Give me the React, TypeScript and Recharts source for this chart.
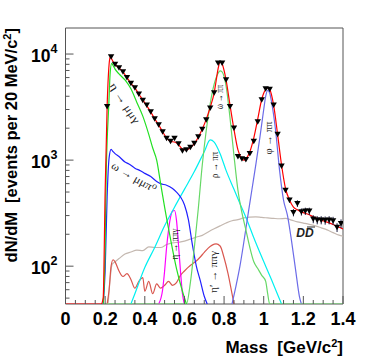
import React from "react";
import {
  ComposedChart,
  Line,
  Scatter,
  XAxis,
  YAxis,
  ReferenceArea,
  ErrorBar,
} from "recharts";

// y range of the frame (events per 20 MeV)
const FLOOR = 44;
const TOP = 17600;

// measured spectrum, 20 MeV bins
const dataMass = [
  0.21, 0.23, 0.25, 0.27, 0.29, 0.31, 0.33, 0.35, 0.37, 0.39, 0.41, 0.43, 0.45, 0.47, 0.49,
  0.51, 0.53, 0.55, 0.57, 0.59, 0.61, 0.63, 0.65, 0.67, 0.69, 0.71, 0.73, 0.75, 0.77, 0.79,
  0.81, 0.83, 0.85, 0.87, 0.89, 0.91, 0.93, 0.95, 0.97, 0.99, 1.01, 1.03, 1.05, 1.07, 1.09,
  1.11, 1.13, 1.15, 1.17, 1.19, 1.21, 1.23, 1.25, 1.27, 1.29, 1.31, 1.33, 1.35, 1.37, 1.39,
];
const dataCounts = [
  3200, 9400, 8000, 7400, 6800, 6000, 5300, 4800, 4200, 3650, 3300, 2850, 2450, 2150, 1850,
  1600, 1500, 1600, 1420, 1220, 1250, 1320, 1440, 1660, 1950, 2400, 3100, 4300, 8200, 8200,
  5700, 3200, 2000, 1080, 1030, 1010, 1150, 1500, 2300, 3700, 4700, 4650, 3300, 1750, 880,
  520, 420, 320, 390, 325, 330, 330, 278, 272, 272, 270, 272, 268, 232, 252,
];
const dataErrors = [
  0, 0, 0, 0, 0, 0, 0, 0, 0, 0, 0, 0, 0, 0, 0,
  0, 0, 0, 0, 0, 0, 0, 0, 0, 0, 0, 0, 0, 0, 0,
  0, 0, 0, 0, 0, 0, 0, 0, 0, 0, 0, 0, 0, 0, 0,
  22, 22, 25, 28, 25, 26, 26, 24, 24, 24, 24, 24, 24, 22, 24,
];

// total fit
const totalMass = [
  0, 0.18, 0.19, 0.2, 0.21, 0.22, 0.225, 0.23, 0.24, 0.25, 0.27, 0.29, 0.31, 0.33, 0.35, 0.37,
  0.39, 0.41, 0.43, 0.45, 0.47, 0.49, 0.51, 0.53, 0.55, 0.57, 0.59, 0.61, 0.63, 0.65, 0.67,
  0.69, 0.71, 0.73, 0.75, 0.76, 0.77, 0.78, 0.79, 0.8, 0.81, 0.83, 0.85, 0.87, 0.89, 0.9, 0.91,
  0.93, 0.95, 0.97, 0.99, 1.01, 1.02, 1.03, 1.05, 1.07, 1.09, 1.11, 1.13, 1.15, 1.17, 1.19,
  1.21, 1.23, 1.25, 1.27, 1.29, 1.31, 1.33, 1.35, 1.37, 1.39, 1.4,
];
const totalFit = [
  44, 44, 50, 500, 3200, 8000, 9400, 9200, 8500, 8000, 7400, 6800, 6000, 5300, 4800, 4200,
  3700, 3250, 2850, 2450, 2150, 1850, 1620, 1500, 1480, 1400, 1270, 1250, 1310, 1430, 1640,
  1960, 2420, 3150, 4300, 5600, 7300, 8400, 8100, 7000, 5700, 3300, 1950, 1250, 1030, 1000, 1030,
  1200, 1620, 2450, 3750, 4650, 4800, 4650, 3300, 1750, 900, 540, 420, 360, 340, 325,
  315, 305, 292, 282, 272, 264, 256, 247, 237, 229, 225,
];

// eta -> mu mu gamma
const etaMumugMass = [
  0.19, 0.2, 0.205, 0.21, 0.218, 0.225, 0.233, 0.24, 0.25, 0.27, 0.3, 0.33, 0.36, 0.39, 0.42,
  0.44, 0.46, 0.48, 0.5, 0.53, 0.56, 0.59, 0.61,
];
const etaMumug = [
  44, 150, 700, 1500, 3200, 6500, 8150, 7800, 7200, 6500, 5700, 4700, 3500, 2600, 1750,
  1300, 1000, 600, 360, 180, 95, 58, 44,
];

// omega -> mu mu pi0
const omegaMumupiMass = [
  0.19, 0.2, 0.21, 0.22, 0.23, 0.24, 0.25, 0.27, 0.3, 0.32, 0.35, 0.38, 0.4, 0.43, 0.46, 0.48,
  0.51, 0.54, 0.56, 0.58, 0.6, 0.62, 0.64, 0.66, 0.68, 0.7, 0.715,
];
const omegaMumupi = [
  44, 90, 450, 1050, 1260, 1200, 1150, 1080, 960, 920, 840, 790, 750, 700, 630, 600,
  580, 540, 500, 450, 380, 275, 160, 100, 73, 52, 44,
];

// omega -> mu mu (narrow peak), runs along the floor outside the peak
const omegaMass = [
  0.2, 0.61, 0.63, 0.65, 0.67, 0.69, 0.71, 0.73, 0.75, 0.77, 0.78, 0.79, 0.81, 0.83, 0.85,
  0.87, 0.89, 0.91, 0.93, 0.95, 0.97, 0.99, 1.01, 1.02, 1.03, 1.4,
];
const omegaMumu = [
  44, 44, 70, 150, 350, 900, 1900, 3400, 5200, 6600, 6950, 6800, 5000, 2500, 1100,
  520, 320, 220, 150, 110, 95, 82, 72, 55, 44, 44,
];

// rho -> mu mu
const rhoMass = [
  0.33, 0.35, 0.4, 0.45, 0.5, 0.55, 0.6, 0.65, 0.7, 0.73, 0.75, 0.78, 0.81, 0.85, 0.88, 0.92,
  0.95, 0.98, 1.01, 1.04, 1.07, 1.09,
];
const rhoMumu = [
  44, 55, 97, 150, 240, 360, 530, 780, 1200, 1550, 1480, 1150, 800, 530, 390, 260,
  185, 135, 100, 74, 54, 44,
];

// phi -> mu mu
const phiMass = [
  0.84, 0.86, 0.88, 0.9, 0.92, 0.94, 0.96, 0.98, 1.0, 1.01, 1.02, 1.03, 1.04, 1.06, 1.08, 1.1,
  1.12, 1.14, 1.16, 1.18, 1.19,
];
const phiMumu = [
  44, 65, 100, 170, 300, 520, 900, 1600, 3000, 4000, 4550, 4300, 3500, 1900, 800, 420,
  300, 175, 95, 52, 44,
];

// eta -> mu mu
const etaMumuMass = [0.47, 0.49, 0.5, 0.51, 0.52, 0.53, 0.54, 0.55, 0.56, 0.57, 0.58, 0.59, 0.6];
const etaMumu = [44, 60, 90, 150, 220, 290, 330, 335, 270, 160, 90, 55, 44];

// eta' -> mu mu gamma
const etapMass = [
  0.21, 0.22, 0.23, 0.24, 0.25, 0.27, 0.29, 0.31, 0.33, 0.35, 0.37, 0.39, 0.4, 0.42, 0.44, 0.46,
  0.48, 0.5, 0.52, 0.54, 0.56, 0.58, 0.6, 0.62, 0.64, 0.66, 0.68, 0.7, 0.72, 0.74, 0.76, 0.78,
  0.8, 0.82, 0.84, 0.85,
];
const etapMumug = [
  44, 60, 100, 115, 110, 90, 80, 85, 75, 62, 72, 78, 58, 72, 55, 68,
  62, 66, 72, 66, 70, 82, 90, 98, 105, 112, 122, 135, 148, 158, 162, 155,
  120, 85, 55, 44,
];

// open charm D Dbar
const ddMass = [
  0.215, 0.225, 0.235, 0.25, 0.27, 0.3, 0.33, 0.36, 0.39, 0.42, 0.45, 0.48, 0.51, 0.54, 0.57,
  0.6, 0.63, 0.66, 0.69, 0.72, 0.75, 0.78, 0.81, 0.84, 0.87, 0.9, 0.93, 0.96, 0.99, 1.02, 1.05,
  1.08, 1.11, 1.14, 1.17, 1.2, 1.23, 1.26, 1.29, 1.32, 1.35, 1.38, 1.4,
];
const ddBar = [
  44, 75, 104, 110, 118, 130, 136, 142, 140, 152, 150, 150, 160, 166, 168,
  172, 180, 188, 195, 210, 225, 240, 255, 268, 275, 285, 290, 292, 288, 285, 282,
  280, 282, 272, 262, 255, 248, 240, 230, 220, 207, 196, 192,
];

const X_TICKS = [
  0, 0.05, 0.1, 0.15, 0.2, 0.25, 0.3, 0.35, 0.4, 0.45, 0.5, 0.55, 0.6, 0.65, 0.7, 0.75, 0.8,
  0.85, 0.9, 0.95, 1, 1.05, 1.1, 1.15, 1.2, 1.25, 1.3, 1.35, 1.4,
];
const X_LABELS = ["0", "0.2", "0.4", "0.6", "0.8", "1", "1.2", "1.4"];
const Y_TICKS = [
  50, 60, 70, 80, 90, 100, 200, 300, 400, 500, 600, 700, 800, 900, 1000, 2000, 3000, 4000,
  5000, 6000, 7000, 8000, 9000, 10000,
];
const Y_MAJOR = [100, 1000, 10000];
const Y_EXP = ["2", "3", "4"];

const pts = (m: number[], v: number[]) => m.map((x, i) => ({ m: x, v: v[i] }));
const points = dataMass.map((x, i) => ({ m: x, v: dataCounts[i], e: dataErrors[i] }));

const AXIS = "#555";
const SANS = "'Liberation Sans', Arial, Helvetica, sans-serif";
const SERIF = "'Liberation Serif', 'DejaVu Serif', serif";

const XTick = (props: any) => {
  const { x, y, payload } = props;
  const v = payload.value;
  const idx = X_TICKS.indexOf(v);
  const major = idx % 4 === 0;
  return (
    <g>
      <line x1={x} x2={x} y1={y} y2={y - (major ? 8 : 4)} stroke={AXIS} />
      {major && (
        <text x={x} y={y + 21} textAnchor="middle" fontFamily={SANS} fontWeight="bold" fontSize={18} fill="#000">
          {X_LABELS[idx / 4]}
        </text>
      )}
    </g>
  );
};

const YTick = (props: any) => {
  const { x, y, payload } = props;
  const k = Y_MAJOR.indexOf(payload.value);
  const major = k >= 0;
  return (
    <g>
      <line x1={x} x2={x + (major ? 8 : 4)} y1={y} y2={y} stroke={AXIS} />
      {major && (
        <text x={x - 8} y={y + 7.7} textAnchor="end" fontFamily={SANS} fontWeight="bold" fontSize={17.5} fill="#000">
          <tspan>10</tspan>
          <tspan dy={-8.4} fontSize={12.5}>{Y_EXP[k]}</tspan>
        </text>
      )}
    </g>
  );
};

const Triangle = (props: any) => {
  const { cx, cy } = props;
  return <polygon points={`${cx - 3.2},${cy - 2.6} ${cx + 3.2},${cy - 2.6} ${cx},${cy + 2.9}`} fill="#000" />;
};

const Label = ({ x, y, angle, len, children }: any) => (
  <text
    transform={`translate(${x},${y}) rotate(${angle})`}
    textAnchor="middle"
    dy="0.35em"
    fontFamily={SERIF}
    fontSize={11}
    fill="#222"
    textLength={len}
    lengthAdjust="spacingAndGlyphs"
    style={{ whiteSpace: "pre" }}
  >
    {children}
  </text>
);

export default function App() {
  const line = (data: any[], color: string, key: string) => (
    <Line
      key={key}
      data={data}
      dataKey="v"
      type="monotone"
      stroke={color}
      strokeWidth={1.2}
      dot={false}
      activeDot={false}
      isAnimationActive={false}
    />
  );
  return (
    <div style={{ position: "absolute", left: 0, top: 0, width: 366, height: 363, background: "#fff" }}>
      <ComposedChart width={366} height={363} margin={{ top: 28, right: 23, bottom: 0, left: 0 }}>
        <XAxis
          type="number"
          dataKey="m"
          domain={[0, 1.4]}
          ticks={X_TICKS}
          interval={0}
          allowDataOverflow
          axisLine={false}
          tickLine={false}
          tickSize={0}
          tickMargin={0}
          height={59}
          tick={<XTick />}
        />
        <YAxis
          type="number"
          dataKey="v"
          scale="log"
          domain={[FLOOR, TOP]}
          ticks={Y_TICKS}
          interval={0}
          allowDataOverflow
          axisLine={false}
          tickLine={false}
          tickSize={0}
          tickMargin={0}
          width={65.5}
          tick={<YTick />}
        />
        <ReferenceArea x1={0} x2={1.4} y1={FLOOR} y2={TOP} fill="none" stroke={AXIS} strokeWidth={1} ifOverflow="visible" />
        {line(pts(ddMass, ddBar), "#c4b8b0", "dd")}
        {line(pts(etapMass, etapMumug), "#d9574f", "etap")}
        {line(pts(etaMumuMass, etaMumu), "#ff00ff", "eta2")}
        {line(pts(rhoMass, rhoMumu), "#00f0f0", "rho")}
        {line(pts(omegaMumupiMass, omegaMumupi), "#2020ff", "omdalitz")}
        {line(pts(phiMass, phiMumu), "#6b6be8", "phi")}
        {line(pts(omegaMass, omegaMumu), "#66d866", "omega")}
        {line(pts(etaMumugMass, etaMumug), "#22e022", "eta")}
        {line(pts(totalMass, totalFit), "#ff0000", "total")}
        <Scatter data={points} shape={<Triangle />} isAnimationActive={false}>
          <ErrorBar dataKey="e" direction="y" width={0} stroke="#1a1a40" strokeWidth={1} />
        </Scatter>
      </ComposedChart>
      <svg width={366} height={363} style={{ position: "absolute", left: 0, top: 0, pointerEvents: "none" }}>
        <text
          transform="translate(17,28) rotate(-90)"
          textAnchor="end"
          fontFamily={SANS}
          fontWeight="bold"
          fontSize={16.5}
          fill="#000"
          style={{ whiteSpace: "pre" }}
        >
          dN/dM  [events per 20 MeV/c<tspan dy={-6} fontSize={11}>2</tspan>
          <tspan dy={6}>]</tspan>
        </text>
        <text x={343} y={353} textAnchor="end" fontFamily={SANS} fontWeight="bold" fontSize={17} fill="#000" style={{ whiteSpace: "pre" }}>
          Mass  [GeV/c<tspan dy={-6} fontSize={11}>2</tspan>
          <tspan dy={6}>]</tspan>
        </text>
        <Label x={125} y={103} angle={57} len={46}>η → μμγ</Label>
        <Label x={134} y={177} angle={30} len={50}>ω → μμπ⁰</Label>
        <Label x={219} y={97} angle={-90} len={24}>ω → ππ</Label>
        <Label x={214} y={165} angle={-90} len={26}>ρ → ππ</Label>
        <Label x={268} y={138} angle={-90} len={33}>φ → ππ</Label>
        <Label x={174} y={244} angle={-90} len={31}>η → ππγ</Label>
        <Label x={213} y={272} angle={-90} len={42}>η′ → ππγ</Label>
        <text x={305} y={237} textAnchor="middle" fontFamily={SANS} fontStyle="italic" fontWeight="bold" fontSize={12} fill="#222">
          DD
        </text>
        <line x1={307} x2={315} y1={227} y2={227} stroke="#222" strokeWidth={1} />
      </svg>
    </div>
  );
}
